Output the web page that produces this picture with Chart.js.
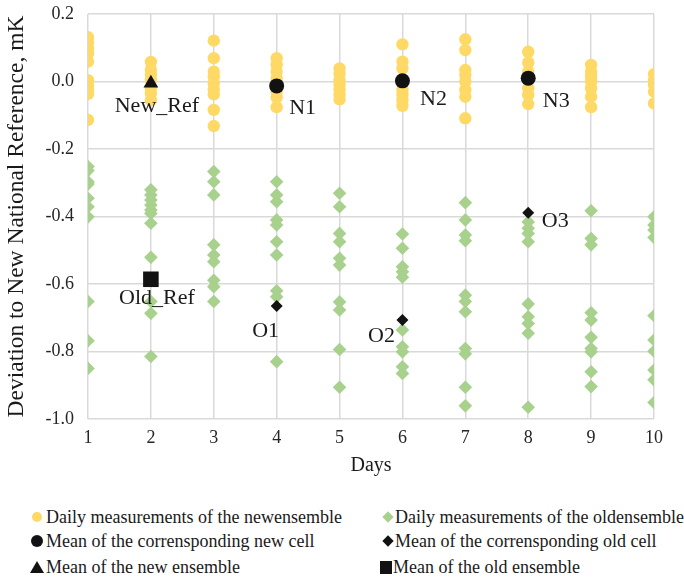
<!DOCTYPE html>
<html>
<head>
<meta charset="utf-8">
<script src="https://cdn.jsdelivr.net/npm/chart.js@4.4.1/dist/chart.umd.min.js"></script>
<style>
  html, body { margin: 0; padding: 0; background: #fff; }
  #wrap { position: relative; width: 684px; height: 582px; overflow: hidden; font-family: 'Liberation Serif', 'Times New Roman', serif; color: #1a1a1a; }
  #chartBox { position: absolute; left: 0; top: 0; width: 684px; height: 480px; }
  .lg { position: absolute; font-size: 18px; line-height: 20px; white-space: nowrap; }
  .mk { position: absolute; }
</style>
</head>
<body>
<div id="wrap">
  <div id="chartBox"><canvas id="c" width="684" height="480"></canvas></div>
  <div id="legend"></div>
</div>
<script>
// ---------- DATA ----------
const days = [1, 2, 3, 4, 5, 6, 7, 8, 9, 10];
const xTicks = ['1', '2', '3', '4', '5', '6', '7', '8', '9', '10'];
const yTicks = [0.2, 0.0, -0.2, -0.4, -0.6, -0.8, -1.0];

// daily measurements of the new ensemble, one list per day
const newDaily = [
  [0.131, 0.115, 0.098, 0.084, 0.059, 0.004, -0.010, -0.025, -0.037, -0.114],
  [0.058, 0.035, 0.020, 0.005, -0.020, -0.035, -0.055],
  [0.121, 0.069, 0.029, 0.014, -0.005, -0.023, -0.038, -0.084, -0.132],
  [0.069, 0.049, 0.029, 0.009, -0.010, -0.030, -0.047, -0.076],
  [0.039, 0.024, 0.004, -0.010, -0.025, -0.040, -0.053],
  [0.110, 0.059, 0.039, 0.000, -0.025, -0.040, -0.055, -0.072],
  [0.125, 0.093, 0.034, 0.019, 0.000, -0.025, -0.045, -0.109],
  [0.088, 0.056, 0.029, -0.020, -0.040, -0.067],
  [0.049, 0.029, 0.014, 0.000, -0.020, -0.045, -0.076],
  [0.022, 0.004, -0.010, -0.030, -0.065]
];

// daily measurements of the old ensemble, one list per day
const oldDaily = [
  [-0.252, -0.264, -0.297, -0.304, -0.346, -0.371, -0.401, -0.652, -0.768, -0.850],
  [-0.321, -0.336, -0.351, -0.366, -0.381, -0.391, -0.420, -0.521, -0.652, -0.687, -0.815],
  [-0.267, -0.297, -0.336, -0.484, -0.514, -0.534, -0.589, -0.608, -0.652],
  [-0.297, -0.336, -0.356, -0.410, -0.425, -0.475, -0.514, -0.620, -0.638, -0.830],
  [-0.331, -0.371, -0.450, -0.475, -0.524, -0.544, -0.653, -0.677, -0.794, -0.906],
  [-0.452, -0.494, -0.549, -0.564, -0.580, -0.736, -0.786, -0.801, -0.845, -0.865],
  [-0.359, -0.410, -0.455, -0.472, -0.633, -0.652, -0.682, -0.791, -0.807, -0.906, -0.961],
  [-0.416, -0.435, -0.450, -0.475, -0.659, -0.697, -0.717, -0.746, -0.965],
  [-0.383, -0.465, -0.484, -0.685, -0.707, -0.758, -0.791, -0.801, -0.860, -0.904],
  [-0.401, -0.425, -0.440, -0.462, -0.694, -0.766, -0.799, -0.855, -0.884, -0.951]
];

// means of corresponding cells
const cellDays = [4, 6, 8];
const newCellMeans = [-0.013, 0.002, 0.010];
const oldCellMeans = [-0.665, -0.707, -0.389];
const newCellLabels = ['N1', 'N2', 'N3'];
const oldCellLabels = ['O1', 'O2', 'O3'];

// ensemble means
const ensembleDay = [2];
const newEnsembleMean = [-0.005];
const oldEnsembleMean = [-0.586];
const newEnsembleLabel = ['New_Ref'];
const oldEnsembleLabel = ['Old_Ref'];

const legendTexts = [
  'Daily measurements of the newensemble',
  'Daily measurements of the oldensemble',
  'Mean of the corrensponding new cell',
  'Mean of the corrensponding old cell',
  'Mean of the new ensemble',
  'Mean of the old ensemble'
];

// ---------- BUILD ----------
function flatten(perDay) {
  const pts = [];
  perDay.forEach((vals, i) => vals.forEach(v => pts.push({ x: days[i], y: v })));
  return pts;
}
function pair(xs, ys) { return xs.map((x, i) => ({ x: x, y: ys[i] })); }

const FONT = "'Liberation Serif', 'Times New Roman', serif";
const YELLOW = '#FFD966';
const GREEN = '#A9D18E';
const BLACK = '#121212';

// label offsets (pixel style, not data)
const labelStyle = {
  newCell: [[26, 22], [31, 18], [28, 23]],
  oldCell: [[-11, 25], [-21, 16], [27, 8]],
  newEns: [[6, 23]],
  oldEns: [[6, 19]]
};

const datasets = [
  { key: 'newCell', data: pair(cellDays, newCellMeans), labels: newCellLabels, pointStyle: 'circle', pointRadius: 7.5, backgroundColor: BLACK, borderColor: BLACK, borderWidth: 0, order: 1 },
  { key: 'oldCell', data: pair(cellDays, oldCellMeans), labels: oldCellLabels, pointStyle: 'rectRot', pointRadius: 6, backgroundColor: BLACK, borderColor: BLACK, borderWidth: 0, order: 1 },
  { key: 'newEns', data: pair(ensembleDay, newEnsembleMean), labels: newEnsembleLabel, pointStyle: 'triangle', pointRadius: 8.5, backgroundColor: BLACK, borderColor: BLACK, borderWidth: 0, order: 1 },
  { key: 'oldEns', data: pair(ensembleDay, oldEnsembleMean), labels: oldEnsembleLabel, pointStyle: 'rect', pointRadius: 11, backgroundColor: BLACK, borderColor: BLACK, borderWidth: 0, order: 1 },
  { key: 'newDaily', data: flatten(newDaily), pointStyle: 'circle', pointRadius: 6.2, backgroundColor: YELLOW, borderColor: YELLOW, borderWidth: 0, order: 2 },
  { key: 'oldDaily', data: flatten(oldDaily), pointStyle: 'rectRot', pointRadius: 6.8, backgroundColor: GREEN, borderColor: GREEN, borderWidth: 0, order: 2 }
];

const pointLabels = {
  id: 'pointLabels',
  afterDatasetsDraw(chart) {
    const ctx = chart.ctx;
    ctx.save();
    ctx.font = '22px ' + FONT;
    ctx.fillStyle = '#1a1a1a';
    ctx.textAlign = 'center';
    ctx.textBaseline = 'middle';
    chart.data.datasets.forEach((ds, di) => {
      if (!ds.labels) return;
      const meta = chart.getDatasetMeta(di);
      meta.data.forEach((el, i) => {
        const off = labelStyle[ds.key][i];
        ctx.fillText(ds.labels[i], el.x + off[0], el.y + off[1]);
      });
    });
    ctx.restore();
  }
};

new Chart(document.getElementById('c'), {
  type: 'scatter',
  data: { datasets: datasets },
  options: {
    responsive: false,
    animation: false,
    events: [],
    layout: { padding: { top: 14, right: 30, left: 0, bottom: 0 } },
    plugins: { legend: { display: false }, tooltip: { enabled: false } },
    scales: {
      x: {
        type: 'linear', min: 1, max: 10,
        afterFit(s) { s.height = 61; s.paddingLeft = 0; s.paddingRight = 0; },
        afterBuildTicks(s) { s.ticks = days.map(v => ({ value: v })); },
        grid: { color: '#d9d9d9', lineWidth: 1.5, drawTicks: false },
        border: { display: false },
        ticks: { padding: 8, color: '#262626', font: { family: FONT, size: 18 }, callback: (v) => xTicks[days.indexOf(v)] },
        title: { display: true, text: 'Days', color: '#1a1a1a', font: { family: FONT, size: 20 }, padding: { top: 0, bottom: 2 } }
      },
      y: {
        type: 'linear', min: -1.0, max: 0.2,
        afterFit(s) { s.width = 88; s.paddingTop = 0; s.paddingBottom = 0; },
        afterBuildTicks(s) { s.ticks = yTicks.map(v => ({ value: v })); },
        grid: { color: '#d9d9d9', lineWidth: 1.5, drawTicks: false },
        border: { display: false },
        ticks: { padding: 14, color: '#262626', font: { family: FONT, size: 18 }, callback: (v) => (Math.abs(v) < 1e-9 ? 0 : v).toFixed(1) },
        title: { display: true, text: 'Deviation to New National Reference, mK', color: '#1a1a1a', font: { family: FONT, size: 23.5 }, padding: { top: 3, bottom: 0 } }
      }
    }
  },
  plugins: [pointLabels]
});

// ---------- LEGEND (HTML) ----------
const legend = document.getElementById('legend');
const rows = [517, 541, 567];
const cols = [{ mx: 37, tx: 46 }, { mx: 388, tx: 395 }];
const markers = [
  'width:10px;height:10px;border-radius:50%;background:' + YELLOW + ';',
  'width:8px;height:8px;background:' + GREEN + ';transform:rotate(45deg);',
  'width:12px;height:12px;border-radius:50%;background:' + BLACK + ';',
  'width:8px;height:8px;background:' + BLACK + ';transform:rotate(45deg);',
  'width:0;height:0;border-left:7px solid transparent;border-right:7px solid transparent;border-bottom:12px solid ' + BLACK + ';',
  'width:12px;height:13px;background:' + BLACK + ';'
];
const markerSize = [[10, 10], [8, 8], [12, 12], [8, 8], [14, 12], [12, 13]];
legendTexts.forEach((t, i) => {
  const r = Math.floor(i / 2), c = i % 2;
  const y = rows[r];
  const m = document.createElement('div');
  m.className = 'mk';
  const sz = markerSize[i];
  let mx = cols[c].mx;
  if (i === 5) mx = 386;
  m.style.cssText = markers[i] + 'left:' + (mx - sz[0] / 2) + 'px;top:' + (y - sz[1] / 2) + 'px;position:absolute;';
  legend.appendChild(m);
  const d = document.createElement('div');
  d.className = 'lg';
  d.textContent = t;
  d.style.left = (i === 5 ? 393 : cols[c].tx) + 'px';
  d.style.top = (y - 10) + 'px';
  legend.appendChild(d);
});
</script>
</body>
</html>
